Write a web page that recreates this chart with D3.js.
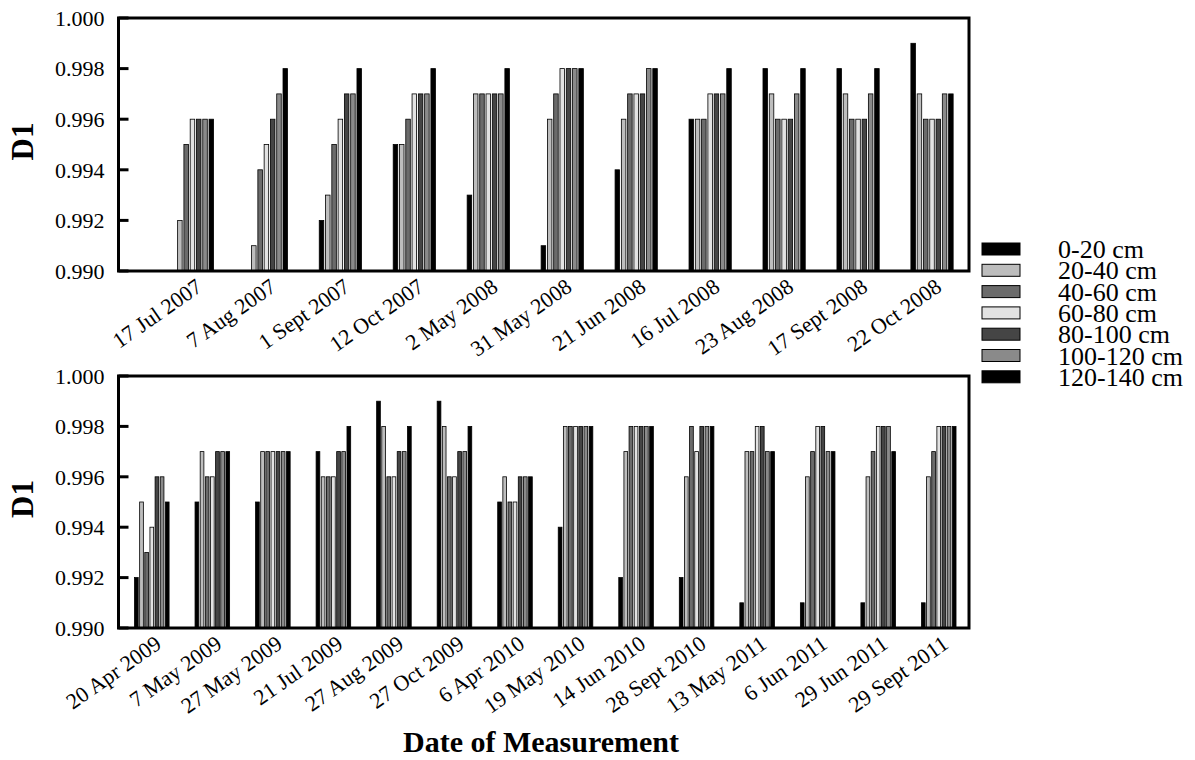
<!DOCTYPE html>
<html>
<head>
<meta charset="utf-8">
<script src="https://cdn.jsdelivr.net/npm/d3@7"></script>
<style>
  body { margin: 0; background: #fff; }
</style>
</head>
<body>
<div id="chart"></div>
<script>
// depth classes and their fills
const depths = ["0-20 cm", "20-40 cm", "40-60 cm", "60-80 cm", "80-100 cm", "100-120 cm", "120-140 cm"];
const fills = ["#000000", "#bdbdbd", "#6b6b6b", "#e2e2e2", "#454545", "#8a8a8a", "#000000"];

// top panel (2007-2008), one row of 7 depth values per date
const topDates = ["17 Jul 2007", "7 Aug 2007", "1 Sept 2007", "12 Oct 2007", "2 May 2008", "31 May 2008",
  "21 Jun 2008", "16 Jul 2008", "23 Aug 2008", "17 Sept 2008", "22 Oct 2008"];
const topValues = [
  [0.990, 0.992, 0.995, 0.996, 0.996, 0.996, 0.996],
  [0.990, 0.991, 0.994, 0.995, 0.996, 0.997, 0.998],
  [0.992, 0.993, 0.995, 0.996, 0.997, 0.997, 0.998],
  [0.995, 0.995, 0.996, 0.997, 0.997, 0.997, 0.998],
  [0.993, 0.997, 0.997, 0.997, 0.997, 0.997, 0.998],
  [0.991, 0.996, 0.997, 0.998, 0.998, 0.998, 0.998],
  [0.994, 0.996, 0.997, 0.997, 0.997, 0.998, 0.998],
  [0.996, 0.996, 0.996, 0.997, 0.997, 0.997, 0.998],
  [0.998, 0.997, 0.996, 0.996, 0.996, 0.997, 0.998],
  [0.998, 0.997, 0.996, 0.996, 0.996, 0.997, 0.998],
  [0.999, 0.997, 0.996, 0.996, 0.996, 0.997, 0.997]
];

// bottom panel (2009-2011)
const bottomDates = ["20 Apr 2009", "7 May 2009", "27 May 2009", "21 Jul 2009", "27 Aug 2009", "27 Oct 2009",
  "6 Apr 2010", "19 May 2010", "14 Jun 2010", "28 Sept 2010", "13 May 2011", "6 Jun 2011",
  "29 Jun 2011", "29 Sept 2011"];
const bottomValues = [
  [0.992, 0.995, 0.993, 0.994, 0.996, 0.996, 0.995],
  [0.995, 0.997, 0.996, 0.996, 0.997, 0.997, 0.997],
  [0.995, 0.997, 0.997, 0.997, 0.997, 0.997, 0.997],
  [0.997, 0.996, 0.996, 0.996, 0.997, 0.997, 0.998],
  [0.999, 0.998, 0.996, 0.996, 0.997, 0.997, 0.998],
  [0.999, 0.998, 0.996, 0.996, 0.997, 0.997, 0.998],
  [0.995, 0.996, 0.995, 0.995, 0.996, 0.996, 0.996],
  [0.994, 0.998, 0.998, 0.998, 0.998, 0.998, 0.998],
  [0.992, 0.997, 0.998, 0.998, 0.998, 0.998, 0.998],
  [0.992, 0.996, 0.998, 0.997, 0.998, 0.998, 0.998],
  [0.991, 0.997, 0.997, 0.998, 0.998, 0.997, 0.997],
  [0.991, 0.996, 0.997, 0.998, 0.998, 0.997, 0.997],
  [0.991, 0.996, 0.997, 0.998, 0.998, 0.998, 0.997],
  [0.991, 0.996, 0.997, 0.998, 0.998, 0.998, 0.998]
];

const yTicks = [0.990, 0.992, 0.994, 0.996, 0.998, 1.000];

const width = 1195, height = 760;
const svg = d3.select("#chart").append("svg")
  .attr("width", width)
  .attr("height", height)
  .attr("font-family", "'Liberation Serif', 'Times New Roman', serif");

const left = 118.5, right = 969;

function drawPanel(dates, values, top, bottom, xDomain) {
  const x = d3.scaleLinear().domain(xDomain).range([left, right]);
  const y = d3.scaleLinear().domain([0.990, 1.000]).range([bottom, top]);
  const spacing = x(1) - x(0);
  const step = spacing * 0.085;
  const bw = step * 0.72;

  const g = svg.append("g");

  // bars
  const grp = g.selectAll(".grp")
    .data(values)
    .enter()
    .append("g")
    .attr("transform", (d, i) => `translate(${x(i)},0)`);

  grp.selectAll("rect")
    .data(d => d.map((v, j) => ({ v, j })).filter(e => e.v > 0.990))
    .enter()
    .append("rect")
    .attr("x", e => (e.j - 3) * step - bw / 2)
    .attr("y", e => y(e.v))
    .attr("width", bw)
    .attr("height", e => y(0.990) - y(e.v))
    .attr("fill", e => fills[e.j])
    .attr("stroke", "#000")
    .attr("stroke-width", 0.8);

  // inward ticks on the left
  g.selectAll(".tick")
    .data(yTicks)
    .enter()
    .append("line")
    .attr("x1", left)
    .attr("x2", left + 10)
    .attr("y1", d => y(d))
    .attr("y2", d => y(d))
    .attr("stroke", "#000")
    .attr("stroke-width", 3);

  g.selectAll(".ylab")
    .data(yTicks)
    .enter()
    .append("text")
    .attr("x", left - 14)
    .attr("y", d => y(d))
    .attr("dy", "0.35em")
    .attr("text-anchor", "end")
    .attr("font-size", 22)
    .text(d => d3.format(".3f")(d));

  // frame
  g.append("rect")
    .attr("x", left)
    .attr("y", top)
    .attr("width", right - left)
    .attr("height", bottom - top)
    .attr("fill", "none")
    .attr("stroke", "#000")
    .attr("stroke-width", 3);

  // rotated date labels
  g.selectAll(".xlab")
    .data(dates)
    .enter()
    .append("text")
    .attr("text-anchor", "end")
    .attr("transform", (d, i) => `translate(${x(i) + 11},${bottom + 19}) rotate(-35)`)
    .attr("font-size", 22)
    .text(d => d);

  g.append("text")
    .attr("transform", `translate(33,${(top + bottom) / 2 - 3}) rotate(-90)`)
    .attr("text-anchor", "middle")
    .attr("font-size", 31)
    .attr("font-weight", "bold")
    .text("D1");
}

drawPanel(topDates, topValues, 18, 271, [-1, 10.5]);
drawPanel(bottomDates, bottomValues, 376, 628, [-0.55, 13.5]);

svg.append("text")
  .attr("x", 541)
  .attr("y", 752)
  .attr("text-anchor", "middle")
  .attr("font-size", 30)
  .attr("font-weight", "bold")
  .text("Date of Measurement");

// legend
const legend = svg.append("g")
  .selectAll("g")
  .data(depths)
  .enter()
  .append("g")
  .attr("transform", (d, i) => `translate(982,${249 + i * 21.3})`);

legend.append("rect")
  .attr("x", 0)
  .attr("y", -6)
  .attr("width", 38)
  .attr("height", 12)
  .attr("fill", (d, i) => fills[i])
  .attr("stroke", "#000")
  .attr("stroke-width", 1);

legend.append("text")
  .attr("x", 76)
  .attr("y", 9)
  .attr("font-size", 26)
  .text(d => d);
</script>
</body>
</html>
